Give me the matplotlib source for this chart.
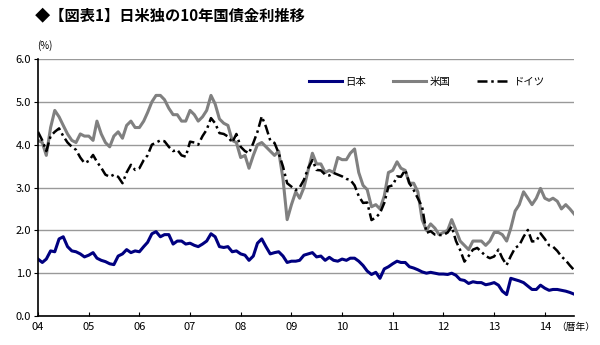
import pandas as pd
import matplotlib.pyplot as plt

plt.rcParams['font.family'] = ['Noto Sans CJK JP', 'DejaVu Sans']

# monthly 10y yields (%), Jan 2004 - Aug 2014
months = pd.date_range("2004-01-01", "2014-08-01", freq="MS")

japan = [
    1.33, 1.25, 1.33, 1.52, 1.50, 1.80, 1.85, 1.62, 1.52, 1.50, 1.45, 1.38,
    1.42, 1.48, 1.35, 1.30, 1.27, 1.22, 1.20, 1.40, 1.45, 1.55, 1.48, 1.52,
    1.50, 1.62, 1.72, 1.92, 1.97, 1.85, 1.90, 1.90, 1.68, 1.75, 1.75, 1.68,
    1.70, 1.65, 1.62, 1.68, 1.75, 1.92, 1.85, 1.62, 1.60, 1.62, 1.50, 1.52,
    1.45, 1.42, 1.30, 1.40, 1.70, 1.80, 1.62, 1.45, 1.48, 1.50, 1.40, 1.25,
    1.28, 1.28, 1.30, 1.42, 1.45, 1.48, 1.38, 1.40, 1.30, 1.37, 1.30, 1.28,
    1.33, 1.30, 1.35, 1.35, 1.28, 1.18, 1.05, 0.97, 1.02, 0.88, 1.10, 1.15,
    1.22, 1.28, 1.25, 1.25, 1.15, 1.12, 1.08, 1.03, 1.00, 1.02, 1.00, 0.98,
    0.98, 0.97, 1.00, 0.95, 0.85, 0.83, 0.76, 0.80, 0.78, 0.78, 0.73, 0.75,
    0.78, 0.72, 0.58, 0.50, 0.88, 0.85, 0.82, 0.78, 0.70, 0.62, 0.62, 0.72,
    0.65, 0.60, 0.62, 0.62, 0.60, 0.58, 0.55, 0.51,
]

usa = [
    4.10, 4.05, 3.75, 4.40, 4.80, 4.65, 4.45, 4.25, 4.10, 4.05, 4.25, 4.20,
    4.20, 4.10, 4.55, 4.25, 4.05, 3.95, 4.20, 4.30, 4.15, 4.45, 4.55, 4.40,
    4.40, 4.55, 4.75, 5.00, 5.15, 5.15, 5.05, 4.85, 4.70, 4.70, 4.55, 4.55,
    4.80, 4.70, 4.55, 4.65, 4.80, 5.15, 4.95, 4.60, 4.50, 4.45, 4.10, 4.05,
    3.70, 3.75, 3.45, 3.75, 4.00, 4.05, 3.95, 3.85, 3.75, 3.85, 3.20, 2.25,
    2.60, 2.90, 2.75, 3.00, 3.40, 3.80, 3.55, 3.55, 3.35, 3.40, 3.35, 3.70,
    3.65, 3.65, 3.80, 3.90, 3.35, 3.05, 2.95, 2.55, 2.60, 2.50, 2.80, 3.35,
    3.40, 3.60, 3.45, 3.40, 3.10, 3.10, 2.90, 2.25, 2.00, 2.15, 2.05, 1.90,
    1.95, 2.00, 2.25, 2.00, 1.75, 1.65, 1.55, 1.75, 1.75, 1.75, 1.65, 1.75,
    1.95, 1.95, 1.90, 1.75, 2.05, 2.45, 2.60, 2.90, 2.75, 2.60, 2.75, 2.98,
    2.75, 2.70, 2.75, 2.68, 2.50, 2.60, 2.50, 2.38,
]

germany = [
    4.30, 4.10, 3.85, 4.20, 4.30, 4.38, 4.20, 4.05, 3.95, 3.88, 3.70, 3.57,
    3.62, 3.76, 3.60, 3.46, 3.30, 3.25, 3.30, 3.25, 3.10, 3.35, 3.53, 3.41,
    3.45, 3.64, 3.75, 4.00, 4.05, 4.10, 4.08, 3.95, 3.85, 3.88, 3.75, 3.72,
    4.07, 4.05, 4.00, 4.20, 4.35, 4.62, 4.50, 4.27, 4.25, 4.19, 4.05, 4.25,
    3.95, 3.85, 3.80, 4.04, 4.30, 4.66, 4.42, 4.10, 4.04, 3.80, 3.49, 3.10,
    3.02, 2.94, 3.00, 3.18, 3.45, 3.64, 3.41, 3.40, 3.30, 3.28, 3.34, 3.30,
    3.26, 3.20, 3.18, 3.05, 2.80, 2.64, 2.65, 2.24, 2.30, 2.40, 2.64, 3.02,
    3.05, 3.26, 3.25, 3.41, 3.10, 2.94, 2.75, 2.55, 1.94, 1.98, 1.90, 1.89,
    1.89, 1.95, 2.09, 1.75, 1.54, 1.27, 1.40, 1.55, 1.59, 1.50, 1.40, 1.35,
    1.39, 1.55, 1.35, 1.19, 1.40, 1.59, 1.65, 1.85, 2.01, 1.74, 1.75, 1.93,
    1.80, 1.65, 1.62, 1.52, 1.39, 1.30, 1.18, 1.07,
]

years = pd.date_range("2004-01-01", "2014-01-01", freq="YS")
year_labels = ["04", "05", "06", "07", "08", "09", "10", "11", "12", "13", "14"]

fig = plt.figure(figsize=(6, 3.45), dpi=100)
ax = fig.add_axes([0.0633, 0.084, 0.8937, 0.745])

ax.plot(months, japan, color="#000080", lw=2.2, label="日本")
ax.plot(months, usa, color="#808080", lw=2.2, label="米国")
ax.plot(months, germany, color="black", lw=1.8,
        linestyle=(0, (4, 1.5, 1, 1.5)), label="ドイツ")

ax.set_ylim(0, 6)
ax.set_yticks([0, 1, 2, 3, 4, 5, 6])
ax.set_yticklabels(["0.0", "1.0", "2.0", "3.0", "4.0", "5.0", "6.0"])
ax.set_xlim(months[0], months[-1])
ax.set_xticks(years)
ax.set_xticklabels(year_labels)

ax.grid(axis="y", color="#999999", lw=1)
ax.set_axisbelow(True)
for s in ["top", "right"]:
    ax.spines[s].set_visible(False)
ax.spines["left"].set_linewidth(1.2)
ax.spines["bottom"].set_linewidth(1.2)
ax.tick_params(axis="y", direction="out", length=3, labelsize=8, pad=2)
ax.tick_params(axis="x", direction="in", length=3, labelsize=8, pad=4)

ax.text(-0.002, 1.03, "(%)", transform=ax.transAxes, fontsize=7, ha="left", va="bottom")
fig.text(0.992, 0.052, "（暦年）", fontsize=7, ha="right", va="center")

ax.legend(ncol=3, frameon=False, loc="center", bbox_to_anchor=(0.711, 0.763),
          bbox_transform=fig.transFigure, fontsize=7.5, handlelength=3.2,
          columnspacing=2.6, handletextpad=0.3)

fig.text(0.058, 0.955, "◆【図表1】日米独の10年国債金利推移", fontsize=11,
         fontweight="bold", ha="left", va="center")

fig.savefig("out.png", dpi=100)
